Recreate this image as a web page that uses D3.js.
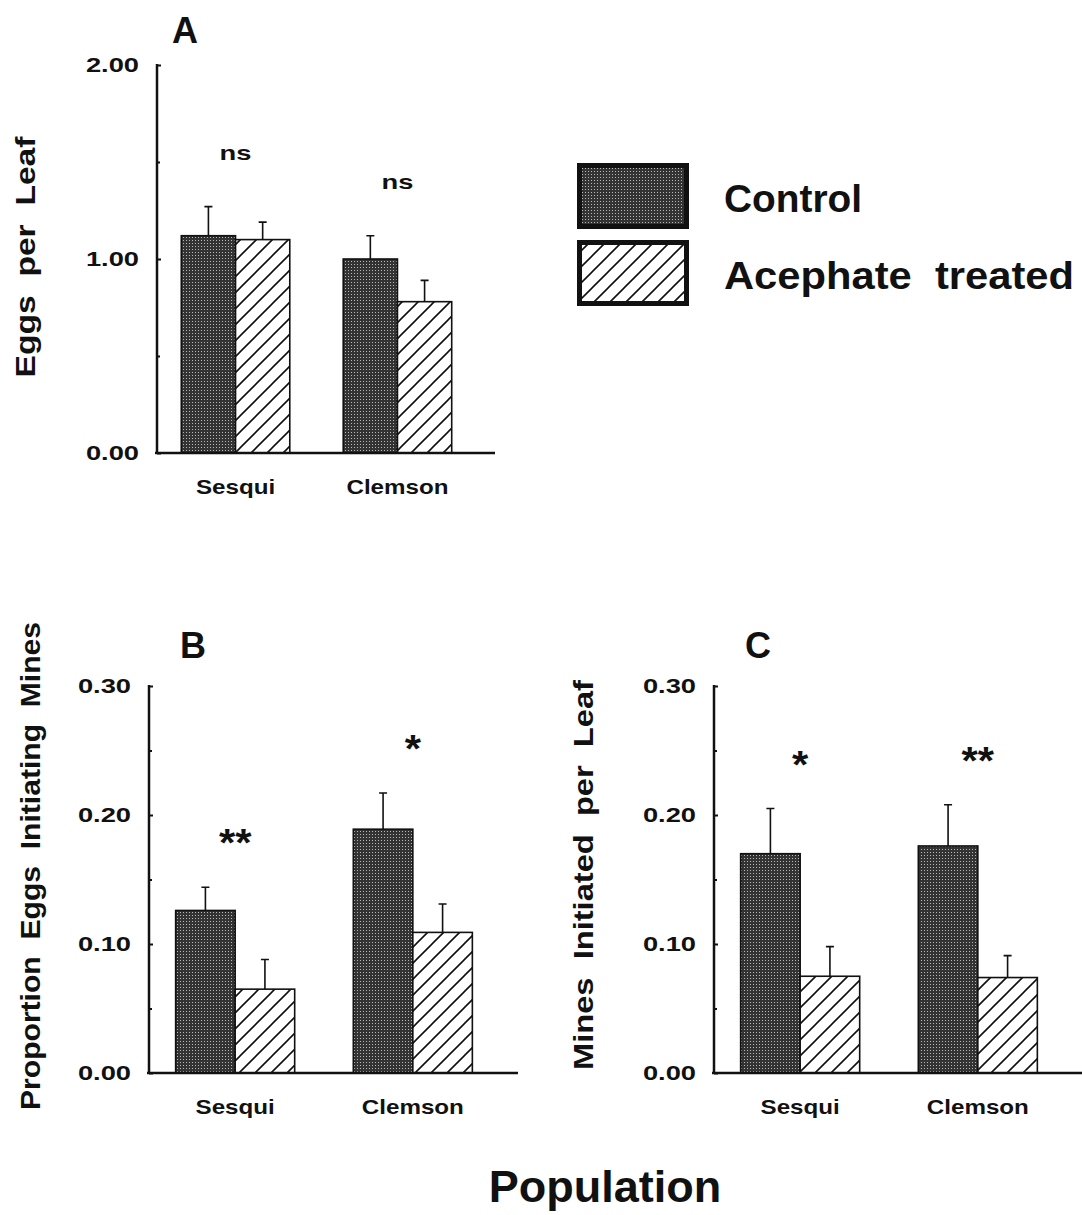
<!DOCTYPE html>
<html>
<head>
<meta charset="utf-8">
<script src="https://cdn.jsdelivr.net/npm/d3@7"></script>
<style>
    body { margin: 0; background: #ffffff; }
    svg { display: block; font-family: "Liberation Sans", Arial, sans-serif; font-weight: bold; }
    .spaced { white-space: pre; }
</style>
</head>
<body>
<div class="figure"></div>
<script>
//Data
const populations = ["Sesqui", "Clemson"];
const treatments = ["Control", "Acephate  treated"];

//Panel A - eggs per leaf
const eggsControl = [1.12, 1.00];
const eggsControlSe = [0.15, 0.12];
const eggsTreated = [1.10, 0.78];
const eggsTreatedSe = [0.09, 0.11];
const eggsSig = ["ns", "ns"];
const eggsTicks = [0, 1, 2];
const eggsMinor = [0.5, 1.5];

//Panel B - proportion eggs initiating mines
const propControl = [0.126, 0.189];
const propControlSe = [0.018, 0.028];
const propTreated = [0.065, 0.109];
const propTreatedSe = [0.023, 0.022];
const propSig = ["**", "*"];

//Panel C - mines initiated per leaf
const minesControl = [0.170, 0.176];
const minesControlSe = [0.035, 0.032];
const minesTreated = [0.075, 0.074];
const minesTreatedSe = [0.023, 0.017];
const minesSig = ["*", "**"];

const smallTicks = [0, 0.1, 0.2, 0.3];
const smallMinor = [0.05, 0.15, 0.25];

//Create svg
const svg = d3.select(".figure")
    .append("svg")
    .attr("width", 1082)
    .attr("height", 1215);

//Fill patterns
const defs = svg.append("defs");
const dots = defs.append("pattern")
    .attr("id", "dots")
    .attr("patternUnits", "userSpaceOnUse")
    .attr("width", 3)
    .attr("height", 3);
dots.append("rect").attr("width", 3).attr("height", 3).attr("fill", "#333333");
dots.append("rect").attr("width", 1).attr("height", 1).attr("fill", "#b8b8b8");

const hatch = defs.append("pattern")
    .attr("id", "hatch")
    .attr("patternUnits", "userSpaceOnUse")
    .attr("width", 16)
    .attr("height", 16);
hatch.append("rect").attr("width", 16).attr("height", 16).attr("fill", "#ffffff");
hatch.append("path")
    .attr("d", "M-4,4L4,-4M0,16L16,0M12,20L20,12")
    .attr("stroke", "#111")
    .attr("stroke-width", 1.6);

//Stretch text a bit, the original font is an extended one
function widen(sel, k) {
    sel.each(function () {
        const w = this.getComputedTextLength();
        d3.select(this)
            .attr("textLength", w * k)
            .attr("lengthAdjust", "spacingAndGlyphs");
    });
}

function drawPanel(p) {
    const y = d3.scaleLinear().domain([0, p.max]).range([p.bottom, p.top]);
    const x = d3.scaleBand()
        .domain(populations)
        .range([p.left, p.right])
        .paddingInner(0.33)
        .paddingOuter(0.15);
    const xIn = d3.scaleBand().domain(treatments).range([0, x.bandwidth()]);

    const g = svg.append("g");

    const series = [
        { name: treatments[0], values: p.control, se: p.controlSe, fill: "url(#dots)" },
        { name: treatments[1], values: p.treated, se: p.treatedSe, fill: "url(#hatch)" }
    ];

    //Bars
    series.forEach(s => {
        g.selectAll(null)
            .data(populations)
            .join("rect")
            .attr("x", (d, i) => x(d) + xIn(s.name))
            .attr("y", (d, i) => y(s.values[i]))
            .attr("width", xIn.bandwidth())
            .attr("height", (d, i) => y(0) - y(s.values[i]))
            .attr("fill", s.fill)
            .attr("stroke", "#111")
            .attr("stroke-width", 1.6);

        //Error bars, upper half only
        const cx = d => x(d) + xIn(s.name) + xIn.bandwidth() / 2;
        g.selectAll(null)
            .data(populations)
            .join("path")
            .attr("d", (d, i) => {
                const y0 = y(s.values[i]);
                const y1 = y(s.values[i] + s.se[i]);
                return `M${cx(d)},${y0}V${y1}M${cx(d) - 4},${y1}H${cx(d) + 4}`;
            })
            .attr("fill", "none")
            .attr("stroke", "#111")
            .attr("stroke-width", 1.6);
    });

    //Significance labels
    const isStar = i => p.sig[i].startsWith("*");
    const stars = g.selectAll(null)
        .data(populations)
        .join("text")
        .attr("x", d => x(d) + x.bandwidth() / 2)
        .attr("y", (d, i) => {
            const top = Math.max(p.control[i] + p.controlSe[i], p.treated[i] + p.treatedSe[i]);
            return y(top) - 53 + (isStar(i) ? 22 : 6);
        })
        .attr("text-anchor", "middle")
        .attr("font-size", (d, i) => isStar(i) ? 38 : 21)
        .attr("fill", "#111")
        .text((d, i) => p.sig[i]);
    widen(stars.filter((d, i) => !isStar(i)), 1.3);
    widen(stars.filter((d, i) => isStar(i)), 1.1);

    //Y axis
    const axis = g.append("g")
        .attr("transform", `translate(${p.left},0)`)
        .call(d3.axisLeft(y)
            .tickValues(p.ticks)
            .tickSize(-4)
            .tickPadding(18)
            .tickFormat(d3.format(".2f")));
    axis.select(".domain").remove();
    axis.selectAll("line").attr("stroke", "#111").attr("stroke-width", 2);
    axis.selectAll("text")
        .attr("font-size", 21)
        .attr("font-family", "Liberation Sans, Arial, sans-serif")
        .attr("font-weight", "bold")
        .attr("fill", "#111");
    widen(axis.selectAll("text"), 1.3);

    g.append("g")
        .attr("transform", `translate(${p.left},0)`)
        .call(d3.axisLeft(y).tickValues(p.minor).tickSize(-3).tickFormat(""))
        .call(a => a.select(".domain").remove())
        .selectAll("line").attr("stroke", "#111").attr("stroke-width", 2);

    g.append("line")
        .attr("x1", p.left).attr("x2", p.left)
        .attr("y1", y(p.max) - 1).attr("y2", y(0))
        .attr("stroke", "#111")
        .attr("stroke-width", 2.5);

    //X axis line
    g.append("line")
        .attr("x1", p.left - 2).attr("x2", p.axisEnd)
        .attr("y1", y(0)).attr("y2", y(0))
        .attr("stroke", "#111")
        .attr("stroke-width", 2.5);

    //Category labels
    const cats = g.selectAll(null)
        .data(populations)
        .join("text")
        .attr("x", d => x(d) + x.bandwidth() / 2)
        .attr("y", y(0) + 41)
        .attr("text-anchor", "middle")
        .attr("font-size", 21)
        .attr("fill", "#111")
        .text(d => d);
    widen(cats, 1.15);

    //Panel letter
    g.append("text")
        .attr("x", p.letterX)
        .attr("y", p.letterY)
        .attr("font-size", 36)
        .attr("fill", "#111")
        .text(p.letter);

    //Y title
    g.append("text")
        .attr("class", "spaced")
        .attr("transform", `translate(${p.titleX},${p.titleY}) rotate(-90)`)
        .attr("text-anchor", "middle")
        .attr("font-size", 27)
        .attr("fill", "#111")
        .attr("textLength", p.titleLength)
        .attr("lengthAdjust", "spacingAndGlyphs")
        .text(p.title);
}

drawPanel({
    letter: "A", letterX: 172, letterY: 43,
    title: "Eggs  per  Leaf", titleX: 35, titleY: 257, titleLength: 241,
    control: eggsControl, controlSe: eggsControlSe,
    treated: eggsTreated, treatedSe: eggsTreatedSe,
    sig: eggsSig, ticks: eggsTicks, minor: eggsMinor, max: 2,
    left: 157, right: 476, axisEnd: 495, top: 65, bottom: 453
});

drawPanel({
    letter: "B", letterX: 180, letterY: 658,
    title: "Proportion  Eggs  Initiating  Mines", titleX: 40, titleY: 866, titleLength: 488,
    control: propControl, controlSe: propControlSe,
    treated: propTreated, treatedSe: propTreatedSe,
    sig: propSig, ticks: smallTicks, minor: smallMinor, max: 0.3,
    left: 149, right: 499, axisEnd: 518, top: 686, bottom: 1073
});

drawPanel({
    letter: "C", letterX: 745, letterY: 658,
    title: "Mines  Initiated  per  Leaf", titleX: 593, titleY: 875, titleLength: 390,
    control: minesControl, controlSe: minesControlSe,
    treated: minesTreated, treatedSe: minesTreatedSe,
    sig: minesSig, ticks: smallTicks, minor: smallMinor, max: 0.3,
    left: 714, right: 1064, axisEnd: 1082, top: 686, bottom: 1073
});

//Legend
const legend = svg.append("g");
const legendFills = ["url(#dots)", "url(#hatch)"];
legend.selectAll("rect")
    .data(treatments)
    .join("rect")
    .attr("x", 579.5)
    .attr("y", (d, i) => 165.5 + i * 77)
    .attr("width", 107)
    .attr("height", 61)
    .attr("fill", (d, i) => legendFills[i])
    .attr("stroke", "#111")
    .attr("stroke-width", 5);
legend.selectAll("text")
    .data(treatments)
    .join("text")
    .attr("class", "spaced")
    .attr("x", 724)
    .attr("y", (d, i) => 212 + i * 77)
    .attr("font-size", 38)
    .attr("fill", "#111")
    .attr("textLength", (d, i) => i == 0 ? 138 : 350)
    .attr("lengthAdjust", "spacingAndGlyphs")
    .text(d => d);

//Shared x title
svg.append("text")
    .attr("x", 605)
    .attr("y", 1202)
    .attr("text-anchor", "middle")
    .attr("font-size", 45)
    .attr("fill", "#111")
    .text("Population");
</script>
</body>
</html>
